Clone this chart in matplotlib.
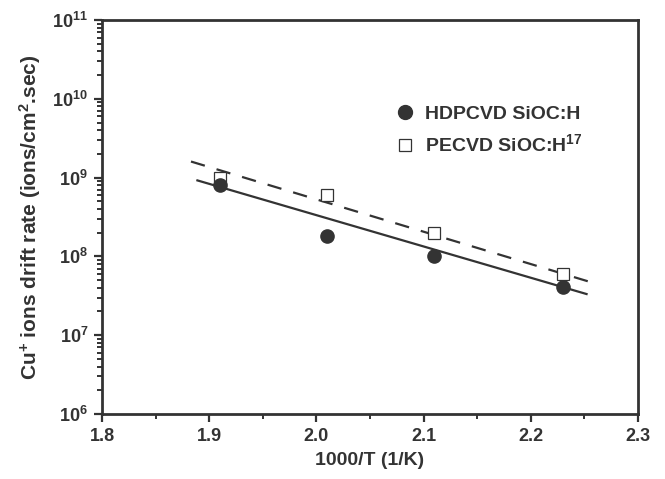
import math
import matplotlib
matplotlib.use("Agg")
import matplotlib.pyplot as plt
import matplotlib.ticker as ticker
from matplotlib.lines import Line2D

# data
inv_T = [1.91, 2.01, 2.11, 2.23]
hdp_rate = [8.0e8, 1.8e8, 1.0e8, 4.1e7]
pe_rate = [1.0e9, 6.0e8, 2.0e8, 6.0e7]

# fitted lines (end points)
hdp_fit_x = [1.888, 2.253]
hdp_fit_y = [9.3e8, 3.3e7]
pe_fit_x = [1.883, 2.254]
pe_fit_y = [1.6e9, 4.8e7]

ink = '#333333'
plt.rcParams['font.family'] = ['Liberation Sans', 'DejaVu Sans']
plt.rcParams['font.weight'] = 'bold'
plt.rcParams['axes.labelweight'] = 'bold'
plt.rcParams['mathtext.fontset'] = 'custom'
plt.rcParams['mathtext.rm'] = 'Liberation Sans:bold'
plt.rcParams['mathtext.it'] = 'Liberation Sans:bold'
plt.rcParams['mathtext.bf'] = 'Liberation Sans:bold'
plt.rcParams['mathtext.default'] = 'rm'

fig = plt.figure(figsize=(6.65, 4.79), dpi=100)
ax = fig.add_axes([0.1534, 0.1357, 0.806, 0.8225])

ax.plot(hdp_fit_x, hdp_fit_y, color=ink, lw=1.6, solid_capstyle='butt')
ax.plot(pe_fit_x, pe_fit_y, color=ink, lw=1.6, ls=(0, (6.5, 5.5)))
ax.plot(inv_T, hdp_rate, 'o', color=ink, ms=9.5, mec=ink, zorder=5)
ax.plot(inv_T, pe_rate, 's', mfc='white', mec=ink, ms=8, mew=0.9, zorder=4)

ax.set_yscale('log')
ax.set_xlim(1.8, 2.3)
ax.set_ylim(1e6, 1e11)
ax.xaxis.set_major_locator(ticker.MultipleLocator(0.1))
ax.xaxis.set_minor_locator(ticker.MultipleLocator(0.05))
ax.xaxis.set_major_formatter(ticker.FormatStrFormatter('%.1f'))
ax.yaxis.set_major_locator(ticker.LogLocator(base=10, numticks=10))
ax.yaxis.set_minor_locator(ticker.LogLocator(base=10, subs=range(2, 10), numticks=10))
ax.yaxis.set_minor_formatter(ticker.NullFormatter())
ax.yaxis.set_major_formatter(ticker.FuncFormatter(lambda v, p: r'$10^{%d}$' % round(math.log10(v))))

for s in ax.spines.values():
    s.set_linewidth(2.0)
    s.set_color(ink)
ax.tick_params(which='major', direction='out', length=6, width=1.6, color=ink,
               labelsize=13, labelcolor=ink, pad=4)
ax.tick_params(which='minor', direction='out', length=3.5, width=1.4, color=ink)
ax.tick_params(top=False, right=False, which='both')

ax.set_xlabel('1000/T (1/K)', fontsize=14, color=ink, labelpad=5)
ax.set_ylabel(r'Cu$^{+}$ ions drift rate (ions/cm$^{2}$.sec)', fontsize=15, color=ink, labelpad=7)

handles = [Line2D([], [], ls='none', marker='o', color=ink, ms=10),
           Line2D([], [], ls='none', marker='s', mfc='white', mec=ink, ms=9, mew=0.9)]
ax.legend(handles, ['HDPCVD SiOC:H', r'PECVD SiOC:H$^{17}$'], loc='upper left',
          bbox_to_anchor=(0.513, 0.828), frameon=False, fontsize=14,
          handletextpad=0.45, labelspacing=0.55, labelcolor=ink, handlelength=1.1)

fig.savefig('out.png', dpi=100)
